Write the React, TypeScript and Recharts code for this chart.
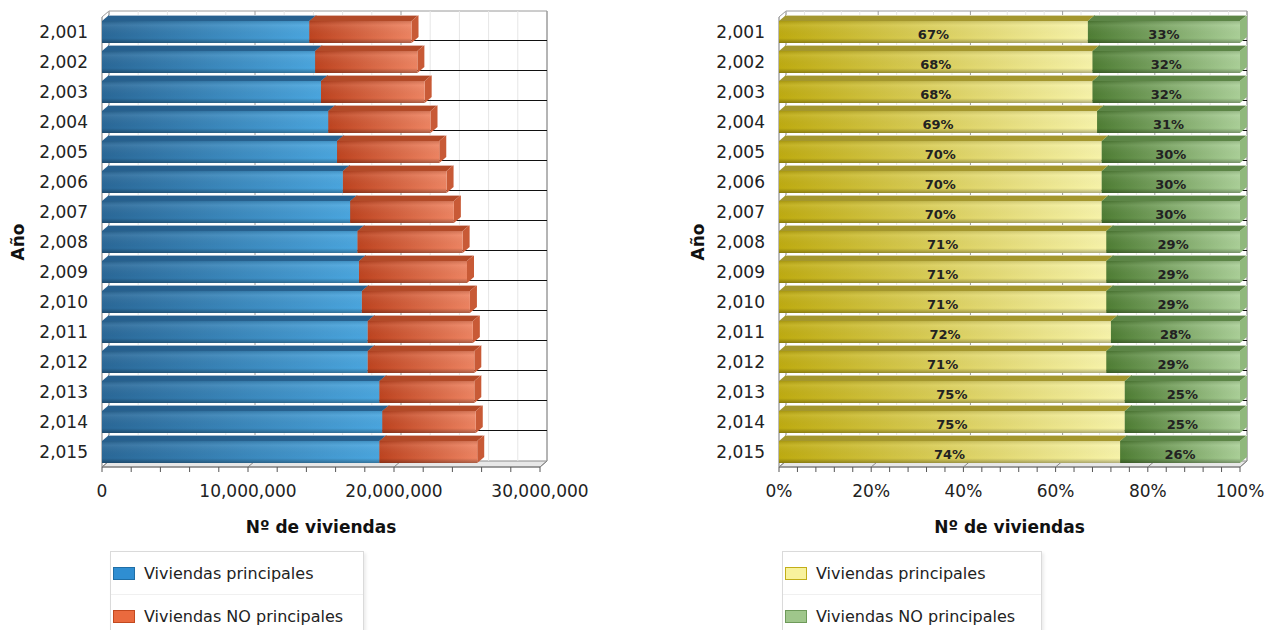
import { BarChart, Bar, XAxis, YAxis, ReferenceArea, ReferenceLine, Legend, LabelList } from "recharts";

const years = [2001, 2002, 2003, 2004, 2005, 2006, 2007, 2008, 2009, 2010, 2011, 2012, 2013, 2014, 2015];

// Nº de viviendas
const viviendasPrincipales = [
  14200000, 14600000, 15000000, 15500000, 16100000, 16500000, 17000000, 17500000,
  17600000, 17800000, 18200000, 18200000, 19000000, 19200000, 19000000,
];
const viviendasNoPrincipales = [
  7000000, 7000000, 7100000, 7000000, 7000000, 7100000, 7100000, 7200000,
  7400000, 7400000, 7200000, 7300000, 6500000, 6400000, 6700000,
];

// % labels of the right panel
const pctPrincipales = [67, 68, 68, 69, 70, 70, 70, 71, 71, 71, 72, 71, 75, 75, 74];
const pctNoPrincipales = [33, 32, 32, 31, 30, 30, 30, 29, 29, 29, 28, 29, 25, 25, 26];

const countTicks = [
  0, 2000000, 4000000, 6000000, 8000000, 10000000, 12000000, 14000000, 16000000,
  18000000, 20000000, 22000000, 24000000, 26000000, 28000000, 30000000,
];
const pctTicks = [
  0, 4, 8, 12, 16, 20, 24, 28, 32, 36, 40, 44, 48, 52, 56, 60, 64, 68, 72, 76, 80, 84, 88, 92, 96, 100,
];

const seriesKeys = ["principales", "noPrincipales"];
const seriesNames = ["Viviendas principales", "Viviendas NO principales"];

const FONT = '"DejaVu Sans", Verdana, sans-serif';
// bar depth
const DX = 7;
const DY = 6;
// wall / floor depth
const WX = 7;
const WY = 6;

const countData = years.map((year, i) => ({
  year,
  principales: viviendasPrincipales[i],
  noPrincipales: viviendasNoPrincipales[i],
}));
const pctData = years.map((year, i) => ({
  year,
  principales: pctPrincipales[i],
  noPrincipales: pctNoPrincipales[i],
}));

function Wall(props: any) {
  const { x, y, width: w, height: h } = props;
  return (
    <g>
      <polygon
        points={`${x},${y + h} ${x + WX},${y + h - WY} ${x + w + WX},${y + h - WY} ${x + w},${y + h}`}
        fill="#e8e8e8"
        stroke="#8c8c8c"
      />
      <polyline
        points={`${x},${y} ${x + WX},${y - WY} ${x + w + WX},${y - WY} ${x + w + WX},${y + h - WY}`}
        fill="none"
        stroke="#9a9a9a"
      />
      <line x1={x + WX} y1={y - WY} x2={x + WX} y2={y + h - WY} stroke="#c8c8c8" />
      <line x1={x} y1={y} x2={x} y2={y + h} stroke="#777" />
    </g>
  );
}

function Bar3D(props: any) {
  const { x, y, width: w, height: h, front, top, side, shade } = props;
  if (!w || w <= 0) return null;
  return (
    <g>
      <polygon points={`${x},${y} ${x + DX},${y - DY} ${x + w + DX},${y - DY} ${x + w},${y}`} fill={top} />
      <polygon points={`${x + w},${y} ${x + w + DX},${y - DY} ${x + w + DX},${y + h - DY} ${x + w},${y + h}`} fill={side} />
      <rect x={x} y={y} width={w} height={h} fill={`url(#${front})`} />
      <rect x={x} y={y} width={w} height={h} fill={`url(#${shade})`} />
      <line x1={x + DX} y1={y - DY + 0.5} x2={x + w + DX} y2={y - DY + 0.5} stroke="rgba(255,255,255,0.6)" />
    </g>
  );
}

function LegendBox(props: any) {
  const { payload, borders } = props;
  const items = [...(payload || [])].sort(
    (a: any, b: any) => seriesKeys.indexOf(a.dataKey) - seriesKeys.indexOf(b.dataKey)
  );
  return (
    <div
      style={{
        width: "100%",
        border: "1px solid #dadada",
        boxShadow: "2px 2px 3px rgba(0,0,0,0.08)",
        background: "#fff",
        fontFamily: FONT,
        fontSize: 16,
        color: "#222",
        textAlign: "left",
      }}
    >
      {items.map((p: any, i: number) => (
        <div
          key={i}
          style={{
            height: 42,
            display: "flex",
            alignItems: "center",
            borderTop: i ? "1px solid #f0f0f0" : "none",
          }}
        >
          <span
            style={{
              display: "inline-block",
              width: 20,
              height: 11,
              margin: "0 9px 0 2px",
              background: p.color,
              border: `1px solid ${borders[i]}`,
            }}
          />
          <span>{p.value}</span>
        </div>
      ))}
    </div>
  );
}

const yTitle = (props: any) => {
  const vb = props.viewBox;
  const cx = vb.x + 18;
  const cy = vb.y + vb.height / 2;
  return (
    <text
      x={cx}
      y={cy}
      transform={`rotate(-90, ${cx}, ${cy})`}
      textAnchor="middle"
      dominantBaseline="central"
      fontWeight="bold"
      fontSize={17}
      fontFamily={FONT}
      fill="#111"
    >
      Año
    </text>
  );
};

const xTitle = (props: any) => {
  const vb = props.viewBox;
  return (
    <text
      x={vb.x + vb.width / 2}
      y={vb.y + 60}
      textAnchor="middle"
      dominantBaseline="central"
      fontWeight="bold"
      fontSize={17}
      fontFamily={FONT}
      fill="#111"
    >
      Nº de viviendas
    </text>
  );
};

interface PanelProps {
  id: string;
  data: any[];
  width: number;
  yAxisWidth: number;
  marginRight: number;
  max: number;
  ticks: number[];
  major: number;
  tickFmt: (v: number) => string;
  colors: string[];
  grads: [string, string][];
  tops: string[];
  sides: string[];
  borders: string[];
  legendLeft: number;
  legendWidth: number;
  showPct?: boolean;
}

function Panel(p: PanelProps) {
  const shadeId = `shade-${p.id}`;
  return (
    <BarChart
      width={p.width}
      height={630}
      data={p.data}
      layout="vertical"
      margin={{ top: 17, right: p.marginRight, bottom: 93, left: 0 }}
      barCategoryGap={4}
    >
      <defs>
        {p.grads.map((g, i) => (
          <linearGradient key={i} id={`g-${p.id}-${i}`} x1="0" y1="0" x2="1" y2="0">
            <stop offset="0%" stopColor={g[0]} />
            <stop offset="100%" stopColor={g[1]} />
          </linearGradient>
        ))}
        <linearGradient id={shadeId} x1="0" y1="0" x2="0" y2="1">
          <stop offset="0%" stopColor="#000" stopOpacity={0.12} />
          <stop offset="20%" stopColor="#fff" stopOpacity={0.08} />
          <stop offset="78%" stopColor="#000" stopOpacity={0} />
          <stop offset="100%" stopColor="#000" stopOpacity={0.3} />
        </linearGradient>
      </defs>
      <XAxis
        type="number"
        domain={[0, p.max]}
        ticks={p.ticks}
        interval={0}
        tickFormatter={p.tickFmt}
        tick={{ fontSize: 17, fill: "#222", fontFamily: FONT }}
        tickSize={5}
        tickMargin={13}
        tickLine={{ stroke: "#555" }}
        axisLine={{ stroke: "#777" }}
        height={70}
        label={xTitle}
      />
      <YAxis
        type="category"
        dataKey="year"
        width={p.yAxisWidth}
        tickFormatter={(v: number) => v.toLocaleString("en-US")}
        tick={{ fontSize: 17, fill: "#222", fontFamily: FONT }}
        tickLine={false}
        axisLine={false}
        tickMargin={8}
        label={yTitle}
      />
      <ReferenceArea x1={0} x2={p.max} shape={<Wall />} zIndex={-300} ifOverflow="visible" />
      {p.ticks.map((t) => (
        <ReferenceLine
          key={`v${t}`}
          x={t}
          zIndex={-200}
          ifOverflow="visible"
          shape={(s: any) => (
            <g>
              <line
                x1={s.x1 + WX}
                y1={Math.min(s.y1, s.y2) - WY}
                x2={s.x2 + WX}
                y2={Math.max(s.y1, s.y2) - WY}
                stroke={t % p.major === 0 ? "#9c9c9c" : "#e6e6e6"}
              />
              {t % p.major === 0 && (
                <line
                  x1={s.x1}
                  y1={Math.max(s.y1, s.y2)}
                  x2={s.x1 + WX}
                  y2={Math.max(s.y1, s.y2) - WY}
                  stroke="#888"
                />
              )}
            </g>
          )}
        />
      ))}
      {p.data.slice(0, -1).map((d) => (
        <ReferenceLine
          key={`h${d.year}`}
          y={d.year}
          position="end"
          zIndex={-150}
          ifOverflow="visible"
          shape={(s: any) => (
            <line
              x1={Math.min(s.x1, s.x2)}
              y1={s.y1 - 6.5}
              x2={Math.max(s.x1, s.x2) + WX}
              y2={s.y2 - 6.5}
              stroke="#111"
            />
          )}
        />
      ))}
      <Legend
        layout="horizontal"
        align="center"
        verticalAlign="middle"
        wrapperStyle={{ left: p.legendLeft, top: 551, width: p.legendWidth }}
        content={(lp: any) => <LegendBox payload={lp.payload} borders={p.borders} />}
      />
      {seriesKeys.map((key, i) => (
        <Bar
          key={key}
          dataKey={key}
          name={seriesNames[i]}
          stackId="a"
          fill={p.colors[i]}
          isAnimationActive={false}
          shape={(s: any) => (
            <Bar3D {...s} front={`g-${p.id}-${i}`} top={p.tops[i]} side={p.sides[i]} shade={shadeId} />
          )}
        >
          {p.showPct && (
            <LabelList
              dataKey={key}
              position="center"
              formatter={(v: any) => `${v}%`}
              fill="#222"
              fontSize={13}
              fontWeight="bold"
              fontFamily={FONT}
              dy={2}
            />
          )}
        </Bar>
      ))}
    </BarChart>
  );
}

export default function App() {
  return (
    <div style={{ position: "absolute", left: 0, top: 0, width: 1266, height: 630, background: "#fff", overflow: "hidden" }}>
      <div style={{ position: "absolute", left: 0, top: 0 }}>
        <Panel
          id="abs"
          data={countData}
          width={600}
          yAxisWidth={102}
          marginRight={60}
          max={30000000}
          ticks={countTicks}
          major={10000000}
          tickFmt={(v) => (v % 10000000 === 0 ? v.toLocaleString("en-US") : "")}
          colors={["#2f8ed2", "#ea6a3e"]}
          grads={[
            ["#2a6898", "#4aa6df"],
            ["#bf4420", "#ee8462"],
          ]}
          tops={["#27608e", "#b24a28"]}
          sides={["#2b6a9a", "#c85a36"]}
          borders={["#1f6ea6", "#c2491f"]}
          legendLeft={110}
          legendWidth={252}
        />
      </div>
      <div style={{ position: "absolute", left: 680, top: 0 }}>
        <Panel
          id="pct"
          data={pctData}
          width={586}
          yAxisWidth={99}
          marginRight={26}
          max={100}
          ticks={pctTicks}
          major={20}
          tickFmt={(v) => (v % 20 === 0 ? `${v}%` : "")}
          colors={["#f8f29c", "#9fc68b"]}
          grads={[
            ["#bfac10", "#f8f4aa"],
            ["#4f7e34", "#abd098"],
          ]}
          tops={["#a3962e", "#5c8546"]}
          sides={["#d8cc60", "#8fb87c"]}
          borders={["#c2ae18", "#6e9a5a"]}
          legendLeft={102}
          legendWidth={258}
          showPct
        />
      </div>
    </div>
  );
}
